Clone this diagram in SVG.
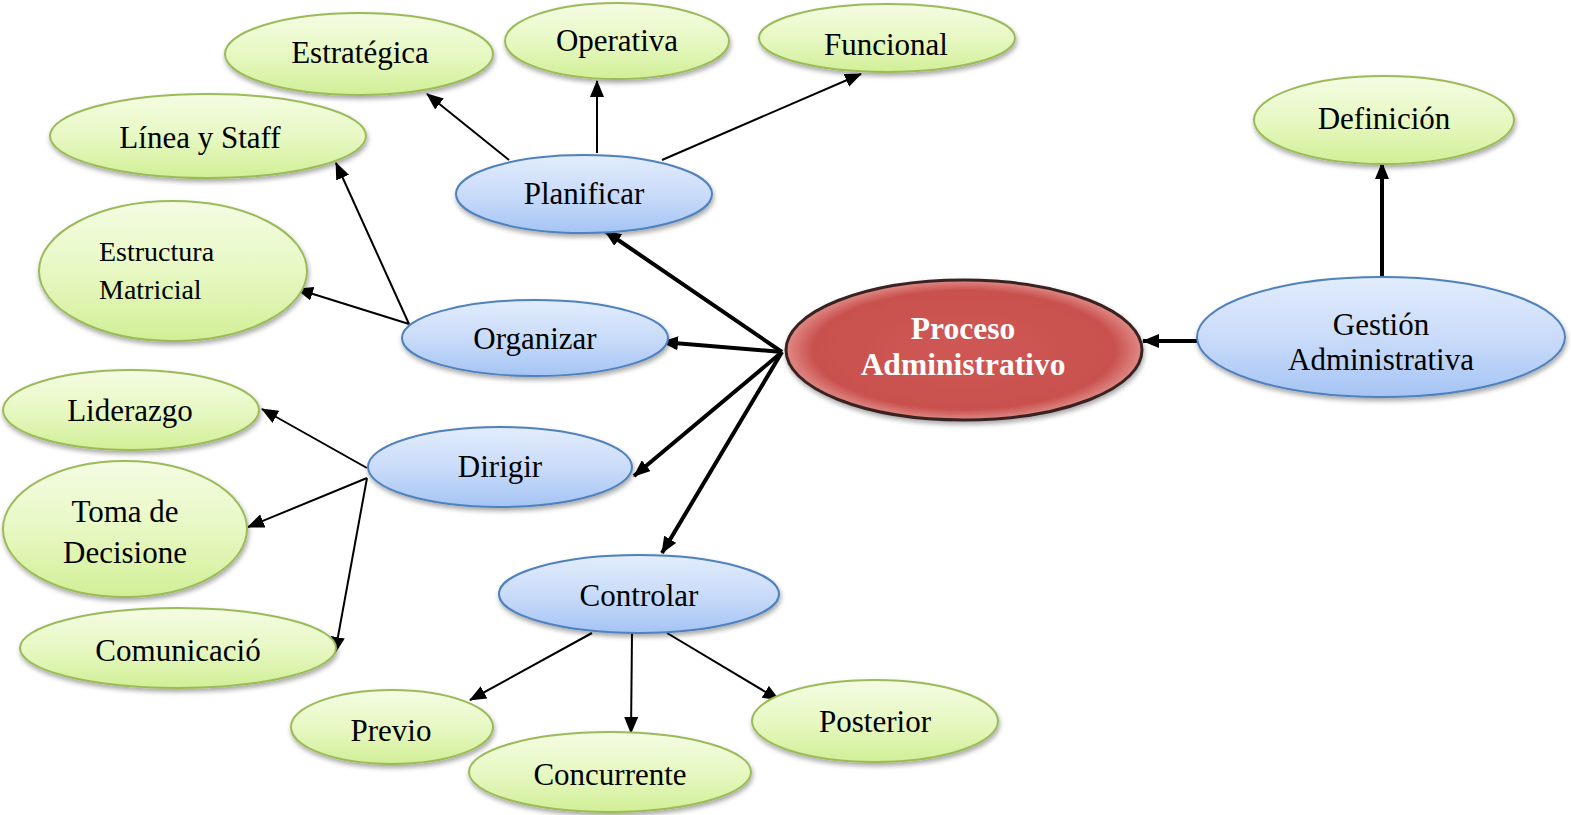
<svg xmlns="http://www.w3.org/2000/svg" width="1571" height="815" viewBox="0 0 1571 815">
<style>
  .g { fill: url(#gGreen); stroke: #9bbb59; stroke-width: 2; filter: url(#sh); }
  .b { fill: url(#gBlue); stroke: #4f81bd; stroke-width: 2; filter: url(#sh); }
  .r { fill: url(#gRed); stroke: #3a2424; stroke-width: 3; filter: url(#sh); }
  text { font-family: "Liberation Serif", "Times New Roman", serif; font-size: 31px; fill: #000; text-anchor: middle; }
  .w { fill: #fff; font-weight: bold; font-size: 31.5px; }
  .thin { stroke: #000; stroke-width: 2; fill: none; marker-end: url(#aThin); }
  .thick { stroke: #000; stroke-width: 4; fill: none; marker-end: url(#aThick); }
</style>
<defs>
  <linearGradient id="gGreen" x1="0" y1="0" x2="0" y2="1">
    <stop offset="0" stop-color="#f4fce3"/>
    <stop offset="0.5" stop-color="#e7f8c3"/>
    <stop offset="1" stop-color="#d1ef96"/>
  </linearGradient>
  <linearGradient id="gBlue" x1="0" y1="0" x2="0" y2="1">
    <stop offset="0" stop-color="#e2ecfc"/>
    <stop offset="0.5" stop-color="#cadcfa"/>
    <stop offset="1" stop-color="#a5c4f4"/>
  </linearGradient>
  <radialGradient id="gRed" cx="0.5" cy="0.5" r="0.5">
    <stop offset="0" stop-color="#cf5754"/>
    <stop offset="0.85" stop-color="#c9514e"/>
    <stop offset="1" stop-color="#e08a86"/>
  </radialGradient>
  <filter id="sh" x="-10%" y="-10%" width="120%" height="130%">
    <feGaussianBlur in="SourceAlpha" stdDeviation="2.5"/>
    <feOffset dx="1" dy="3" result="o"/>
    <feComponentTransfer><feFuncA type="linear" slope="0.35"/></feComponentTransfer>
    <feMerge><feMergeNode/><feMergeNode in="SourceGraphic"/></feMerge>
  </filter>
  <marker id="aThin" markerUnits="userSpaceOnUse" markerWidth="18" markerHeight="14" refX="16" refY="7" orient="auto">
    <path d="M0,0 L17,7 L0,14 Z" fill="#000"/>
  </marker>
  <marker id="aThick" markerUnits="userSpaceOnUse" markerWidth="18" markerHeight="14" refX="16" refY="7" orient="auto">
    <path d="M0,0 L17,7 L0,14 Z" fill="#000"/>
  </marker>
</defs>

<g id="connectors">
  <line class="thick" x1="782" y1="352" x2="605" y2="231"/>
  <line class="thick" x1="782" y1="352" x2="662" y2="342"/>
  <line class="thick" x1="782" y1="352" x2="634" y2="476"/>
  <line class="thick" x1="782" y1="352" x2="662" y2="553"/>
  <line class="thick" x1="1198" y1="341" x2="1143" y2="341"/>
  <line class="thick" x1="1382" y1="277" x2="1382" y2="163"/>
  <line class="thin" x1="509" y1="160" x2="427" y2="94"/>
  <line class="thin" x1="597" y1="153" x2="597" y2="81"/>
  <line class="thin" x1="662" y1="160" x2="861" y2="74"/>
  <line class="thin" x1="409" y1="324" x2="336" y2="163"/>
  <line class="thin" x1="409" y1="324" x2="297" y2="289"/>
  <line class="thin" x1="367" y1="468" x2="262" y2="409"/>
  <line class="thin" x1="367" y1="478" x2="248" y2="527"/>
  <line class="thin" x1="367" y1="478" x2="335" y2="653"/>
  <line class="thin" x1="592" y1="633" x2="470" y2="700"/>
  <line class="thin" x1="632" y1="633" x2="631" y2="733"/>
  <line class="thin" x1="667" y1="633" x2="779" y2="700"/>
</g>

<g id="estrategica"><ellipse class="g" cx="359" cy="54" rx="134" ry="41"/><text x="360" y="63">Estratégica</text></g>
<g id="operativa"><ellipse class="g" cx="617" cy="41" rx="112" ry="38"/><text x="617" y="51">Operativa</text></g>
<g id="funcional"><ellipse class="g" cx="887" cy="38" rx="128" ry="34"/><text x="886" y="55">Funcional</text></g>
<g id="linea"><ellipse class="g" cx="208" cy="136" rx="158" ry="42"/><text x="200" y="148">Línea y Staff</text></g>
<g id="estructura"><ellipse class="g" cx="173" cy="271" rx="134" ry="70"/><text x="99" y="261" style="text-anchor:start;font-size:28px">Estructura</text><text x="99" y="299" style="text-anchor:start;font-size:28px">Matricial</text></g>
<g id="liderazgo"><ellipse class="g" cx="131" cy="410" rx="128" ry="40"/><text x="130" y="421">Liderazgo</text></g>
<g id="toma"><ellipse class="g" cx="125" cy="529" rx="122" ry="68"/><text x="125" y="522">Toma de</text><text x="125" y="563">Decisione</text></g>
<g id="comunicacion"><ellipse class="g" cx="178" cy="648" rx="158" ry="40"/><text x="178" y="661">Comunicació</text></g>
<g id="previo"><ellipse class="g" cx="392" cy="727" rx="101" ry="37"/><text x="391" y="741">Previo</text></g>
<g id="concurrente"><ellipse class="g" cx="610" cy="772" rx="141" ry="40"/><text x="610" y="785">Concurrente</text></g>
<g id="posterior"><ellipse class="g" cx="875" cy="721" rx="123" ry="41"/><text x="875" y="732">Posterior</text></g>
<g id="definicion"><ellipse class="g" cx="1384" cy="120" rx="130" ry="44"/><text x="1384" y="129">Definición</text></g>

<g id="planificar"><ellipse class="b" cx="584" cy="194" rx="128" ry="39"/><text x="584" y="204">Planificar</text></g>
<g id="organizar"><ellipse class="b" cx="535" cy="338" rx="133" ry="38"/><text x="535" y="349">Organizar</text></g>
<g id="dirigir"><ellipse class="b" cx="500" cy="467" rx="132" ry="40"/><text x="500" y="477">Dirigir</text></g>
<g id="controlar"><ellipse class="b" cx="639" cy="594" rx="140" ry="39"/><text x="639" y="606">Controlar</text></g>
<g id="gestion"><ellipse class="b" cx="1381" cy="337" rx="184" ry="60"/><text x="1381" y="335">Gestión</text><text x="1381" y="370">Administrativa</text></g>

<g id="proceso"><ellipse class="r" cx="964" cy="350" rx="178" ry="70"/><text class="w" x="963" y="339">Proceso</text><text class="w" x="963" y="375">Administrativo</text></g>
</svg>
